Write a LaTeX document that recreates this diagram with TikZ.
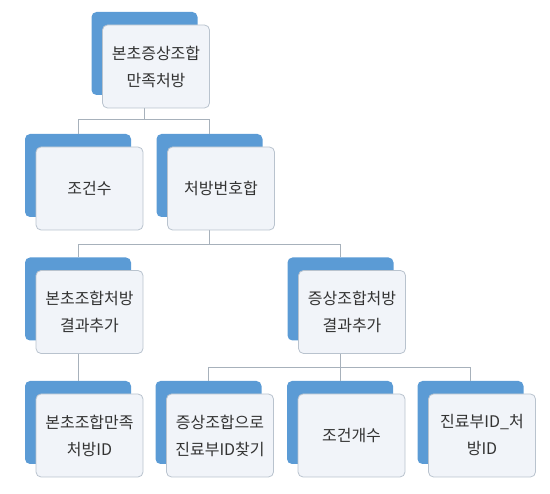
\documentclass[tikz,border=0pt]{standalone}
\usepackage{fontspec}
\setmainfont{Noto Sans CJK KR}
\usetikzlibrary{positioning}
\definecolor{cardblue}{HTML}{5B9BD5}
\definecolor{cardfill}{HTML}{F1F4F9}
\definecolor{cardline}{HTML}{B9C3CE}
\definecolor{cardtext}{HTML}{333333}
\definecolor{linkgray}{HTML}{A7B1BB}

\begin{document}
\begin{tikzpicture}[
  x=1pt, y=-1pt,
  back/.style={fill=cardblue, rounded corners=5pt, minimum width=106pt, minimum height=83pt, inner sep=0pt},
  front/.style={draw=cardline, fill=cardfill, line width=0.8pt, rounded corners=5pt,
    minimum width=107pt, minimum height=83pt, inner sep=2pt, align=center,
    text=cardtext, font=\fontsize{16}{27}\selectfont},
  link/.style={draw=linkgray, line width=0.9pt},
]
  \useasboundingbox (0,0) rectangle (550,494);

  % blue back cards
  \node[back] (root)    at (144.5,53.5) {};
  \node[back] (cnt)     at (78,175.5) {};
  \node[back] (combo)   at (209.5,175.5) {};
  \node[back] (herbres) at (78,299) {};
  \node[back] (symres)  at (340.5,299) {};
  \node[back] (herbid)  at (78,422.5) {};
  \node[back] (symfind) at (208.5,422.5) {};
  \node[back] (condcnt) at (340,422.5) {};
  \node[back] (deptid)  at (470.5,422.5) {};

  % tree links
  \foreach \kid in {cnt, combo}
    \draw[link] (root.south) |- ([yshift=14pt]\kid.north) -- (\kid.north);
  \foreach \kid in {herbres, symres}
    \draw[link] (combo.south) |- ([yshift=13pt]\kid.north) -- (\kid.north);
  \draw[link] (herbres.south) -- (herbid.north);
  \foreach \kid in {symfind, condcnt, deptid}
    \draw[link] (symres.south) |- ([yshift=13pt]\kid.north) -- (\kid.north);

  % front cards with text
  \node[front] (rootF)    at ([xshift=11.5pt, yshift=-13pt]root.center)    {본초증상조합\\만족처방};
  \node[front] (cntF)     at ([xshift=11.5pt, yshift=-13pt]cnt.center)     {조건수};
  \node[front] (comboF)   at ([xshift=11.5pt, yshift=-13pt]combo.center)   {처방번호합};
  \node[front] (herbresF) at ([xshift=11.5pt, yshift=-13pt]herbres.center) {본초조합처방\\결과추가};
  \node[front] (symresF)  at ([xshift=11.5pt, yshift=-13pt]symres.center)  {증상조합처방\\결과추가};
  \node[front] (herbidF)  at ([xshift=11.5pt, yshift=-13pt]herbid.center)  {본초조합만족\\처방ID};
  \node[front] (symfindF) at ([xshift=11.5pt, yshift=-13pt]symfind.center) {증상조합으로\\진료부ID찾기};
  \node[front] (condcntF) at ([xshift=11.5pt, yshift=-13pt]condcnt.center) {조건개수};
  \node[front] (deptidF)  at ([xshift=11.5pt, yshift=-13pt]deptid.center)  {진료부ID\_처\\방ID};
\end{tikzpicture}
\end{document}
